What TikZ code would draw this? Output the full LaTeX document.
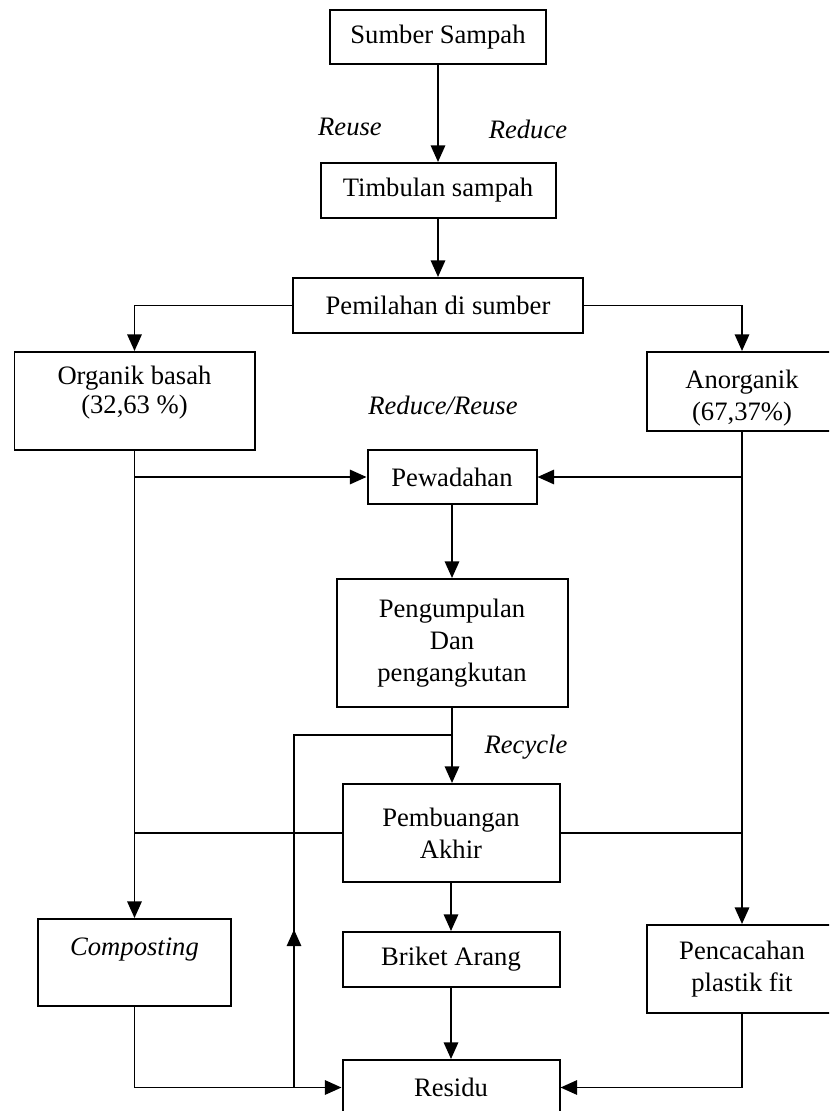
\documentclass[tikz,border=0pt]{standalone}
\usepackage{fontspec}
\setmainfont{Liberation Serif}
\usetikzlibrary{arrows.meta}
\newdimen\pxu
\pxu=0.451pt

\begin{document}
\begin{tikzpicture}[x=0.451pt,y=-0.451pt,
    every node/.style={font=\fontsize{12}{14.3}\selectfont},
    box/.style={draw, line width=0.9pt, inner sep=1pt, align=center},
    lbl/.style={font=\fontsize{12}{14.3}\selectfont\itshape},
    flow/.style={-{Triangle[length=7.5pt,width=6.5pt]}, line width=0.85pt},
    line/.style={line width=0.85pt}]
        \useasboundingbox (0,0) rectangle (829,1111);
        \clip (0,0) rectangle (829,1111);
        % Nodes
        \node[box, minimum width=216*\pxu, minimum height=54*\pxu]   (sumber) at (438,37) {Sumber Sampah};
        \node[box, minimum width=235*\pxu, minimum height=55*\pxu]   (timbulan) at (438,190.5) {Timbulan sampah};
        \node[box, minimum width=290*\pxu, minimum height=55*\pxu]   (pemilahan) at (438,305.5) {Pemilahan di sumber};
        \node[box, minimum width=240*\pxu, minimum height=98*\pxu]   (organik) at (134.5,401) {Organik basah\\[-1.5pt](32,63 \%)\\[-4pt]\mbox{}};
        \node[box, minimum width=190*\pxu, minimum height=79*\pxu]   (anorganik) at (742,391.5) {\mbox{}\\[0pt]Anorganik\\(67,37\%)};
        \node[box, minimum width=169*\pxu, minimum height=54*\pxu]   (pewadahan) at (452,477) {Pewadahan};
        \node[box, minimum width=231*\pxu, minimum height=128*\pxu]  (pengumpulan) at (452,643) {Pengumpulan\\Dan\\pengangkutan};
        \node[box, minimum width=217*\pxu, minimum height=98*\pxu]   (pembuangan) at (451,833) {Pembuangan\\Akhir};
        \node[box, minimum width=193*\pxu, minimum height=87*\pxu]   (composting) at (134.5,962.5) {\textit{Composting}\\\mbox{}};
        \node[box, minimum width=217*\pxu, minimum height=55*\pxu]   (briket) at (451,959.5) {Briket Arang};
        \node[box, minimum width=190*\pxu, minimum height=88*\pxu]   (pencacahan) at (742,969) {Pencacahan\\plastik fit};
        \node[box, minimum width=217*\pxu, minimum height=55*\pxu]   (residu) at (451,1087.5) {Residu};
        % Labels
        \node[lbl] (reuse) at (350,127) {Reuse};
        \node[lbl] (reduce) at (528,129) {Reduce};
        \node[lbl] (redreu) at (443,405) {Reduce/Reuse};
        \node[lbl] (recycle) at (526,747) {Recycle};
        % Edges
        \draw[flow] (sumber) -- (timbulan);
        \draw[flow] (timbulan) -- (pemilahan);
        \draw[flow] (pemilahan.west) -| (organik.north);
        \draw[flow] (pemilahan.east) -| (anorganik.north);
        \draw[flow] (organik.south) -- (composting.north);
        \draw[flow] (organik.south |- pewadahan.west) -- (pewadahan.west);
        \draw[flow] (anorganik.south) -- (pencacahan.north);
        \draw[flow] (anorganik.south |- pewadahan.east) -- (pewadahan.east);
        \draw[flow] (pewadahan) -- (pengumpulan);
        \draw[flow] (pengumpulan.south) -- (pengumpulan.south |- pembuangan.north);
        \draw[line] (pembuangan.west) -- (pembuangan.west -| organik.south);
        \draw[line] (pembuangan.east) -- (pembuangan.east -| anorganik.south);
        \draw[flow] (pembuangan) -- (briket);
        \draw[flow] (briket) -- (residu);
        \draw[flow] (composting.south) |- (residu.west);
        \draw[flow] (pencacahan.south) |- (residu.east);
        % Recycle loop
        \coordinate (balik) at (294,735);
        \draw[line] (balik |- residu.west) -- (balik) -- (balik -| pengumpulan.south);
        \draw[flow] (balik |- residu.west) -- ++(0,-158);
    \end{tikzpicture}
\end{document}
